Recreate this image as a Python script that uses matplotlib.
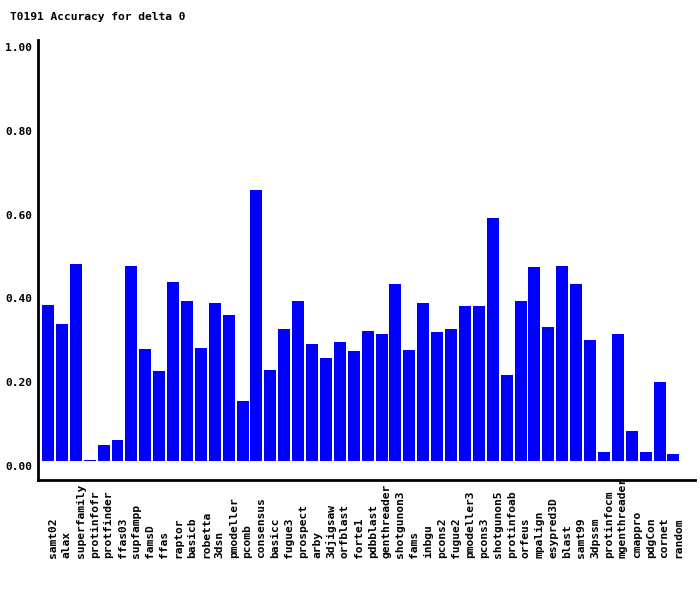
import matplotlib
matplotlib.use("Agg")
import matplotlib.pyplot as plt
import matplotlib.transforms as mtransforms
import numpy as np

methods = [
    "samt02", "alax", "superfamily", "protinfofr", "protfinder", "ffas03",
    "supfampp", "famsD", "ffas", "raptor", "basicb", "robetta", "3dsn",
    "pmodeller", "pcomb", "consensus", "basicc", "fugue3", "prospect", "arby",
    "3djigsaw", "orfblast", "forte1", "pdbblast", "genthreader", "shotgunon3",
    "fams", "inbgu", "pcons2", "fugue2", "pmodeller3", "pcons3", "shotgunon5",
    "protinfoab", "orfeus", "mpalign", "esypred3D", "blast", "samt99",
    "3dpssm", "protinfocm", "mgenthreader", "cmappro", "pdgCon", "cornet",
    "random",
]
accuracy = [
    0.372, 0.327, 0.470, 0.003, 0.038, 0.050,
    0.465, 0.267, 0.215, 0.427, 0.382, 0.270, 0.377,
    0.348, 0.143, 0.647, 0.217, 0.315, 0.382, 0.279,
    0.246, 0.284, 0.263, 0.310, 0.303, 0.422,
    0.265, 0.377, 0.308, 0.315, 0.370, 0.370, 0.580,
    0.205, 0.382, 0.463, 0.320, 0.465, 0.422,
    0.289, 0.021, 0.303, 0.072, 0.021, 0.189,
    0.017,
]
yticks = [0.0, 0.2, 0.4, 0.6, 0.8, 1.0]

font = {"family": "DejaVu Sans Mono", "weight": "bold", "size": 8.1}

fig = plt.figure(figsize=(7, 5.9), dpi=100)
ax = fig.add_axes([38 / 700, 1 - 480 / 590, 657 / 700, 440 / 590])

x = np.arange(len(methods))
ax.bar(x, accuracy, width=0.863, color="#0000ff")

ax.set_xlim(-0.72, 46.55)
ax.set_ylim(-0.0453, 1.0048)

for side in ["top", "right"]:
    ax.spines[side].set_visible(False)
for side in ["left", "bottom"]:
    ax.spines[side].set_linewidth(2)
    ax.spines[side].set_color("black")

ax.set_yticks(yticks)
ax.set_yticklabels([f"{v:.2f}" for v in yticks], fontdict=font)
ax.set_xticks(x)
# names all start at the same baseline, far below the axis
ax.set_xticklabels(methods, rotation=90, va="bottom", fontdict=font)
ax.tick_params(axis="both", length=0)
ax.tick_params(axis="y", pad=4)
ax.tick_params(axis="x", pad=56)

# labels sit a few pixels off their positions in the original
down = mtransforms.ScaledTranslation(0, -5 / 100, fig.dpi_scale_trans)
for lab in ax.get_yticklabels():
    lab.set_transform(lab.get_transform() + down)
right = mtransforms.ScaledTranslation(5 / 100, 0, fig.dpi_scale_trans)
for lab in ax.get_xticklabels():
    lab.set_transform(lab.get_transform() + right)

fig.text(10 / 700, 1 - 17 / 590, "T0191 Accuracy for delta 0",
         va="center", ha="left", **font)

fig.savefig("out.png", dpi=100)
